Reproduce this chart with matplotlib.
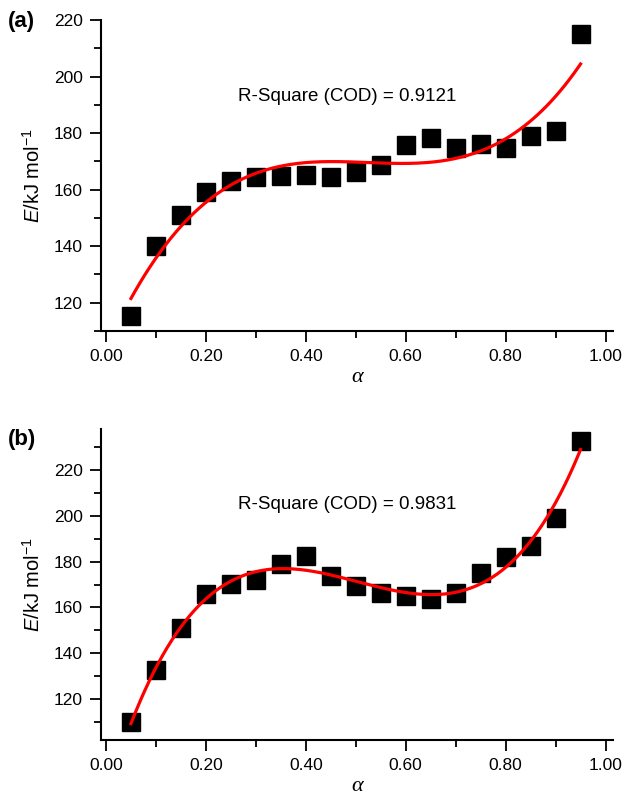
import numpy as np
import matplotlib
matplotlib.use("Agg")
import matplotlib.pyplot as plt
from matplotlib.ticker import MultipleLocator

plt.rcParams['font.family'] = ['Liberation Sans', 'DejaVu Sans']
plt.rcParams['mathtext.fontset'] = 'custom'
plt.rcParams['mathtext.rm'] = 'Liberation Sans'
plt.rcParams['mathtext.it'] = 'Liberation Sans:italic'

alpha = [0.05, 0.10, 0.15, 0.20, 0.25, 0.30, 0.35, 0.40, 0.45, 0.50,
         0.55, 0.60, 0.65, 0.70, 0.75, 0.80, 0.85, 0.90, 0.95]
E_a = [115.4, 139.9, 151.1, 159.3, 163.1, 164.6, 165.0, 165.2, 164.3, 166.2,
       168.8, 175.8, 178.4, 174.7, 176.2, 174.7, 179.0, 180.8, 215.1]
E_b = [109.8, 132.7, 151.1, 165.7, 170.1, 171.8, 178.8, 182.4, 173.8, 169.5,
       166.4, 165.0, 163.7, 166.4, 174.9, 182.1, 186.9, 198.9, 232.7]

fig = plt.figure(figsize=(6.3, 7.98), dpi=100)
ax1 = fig.add_axes([101/630, 1-331/798, 512/630, 311/798])
ax2 = fig.add_axes([101/630, 1-740/798, 512/630, 311/798])

# polynomial fits (orders chosen to reproduce the quoted R^2)
panels = [(ax1, E_a, 3, (110, 220), "(a)", "R-Square (COD) = 0.9121", 193, 22),
          (ax2, E_b, 5, (102, 238), "(b)", "R-Square (COD) = 0.9831", 205, 440)]

for ax, E, deg, ylim, tag, txt, ty, tag_y in panels:
    ax.plot(alpha, E, 's', color='black', markersize=13, zorder=2)
    coef = np.polyfit(alpha, E, deg)
    xs = np.linspace(alpha[0], alpha[-1], 200)
    ax.plot(xs, np.polyval(coef, xs), color='#ff0000', lw=2.3, zorder=3)
    ax.set_xlim(-0.01, 1.015)
    ax.set_ylim(*ylim)
    ax.spines['top'].set_visible(False)
    ax.spines['right'].set_visible(False)
    for s in ('left', 'bottom'):
        ax.spines[s].set_linewidth(1.5)
    ax.xaxis.set_major_locator(MultipleLocator(0.2))
    ax.xaxis.set_minor_locator(MultipleLocator(0.1))
    ax.yaxis.set_major_locator(MultipleLocator(20))
    ax.yaxis.set_minor_locator(MultipleLocator(10))
    ax.xaxis.set_major_formatter(lambda v, p: f"{v:.2f}")
    ax.tick_params(which='major', length=8, width=1.3, labelsize=12.5, direction='out', pad=5)
    ax.tick_params(which='minor', length=5, width=1.3, direction='out')
    ax.set_xlabel("α", family='Liberation Serif', style='italic', fontsize=16, labelpad=3)
    ax.set_ylabel(r"$\it{E}$/kJ mol$^{-1}$", fontsize=14.5, labelpad=7)
    ax.text(0.265, ty, txt, fontsize=13.5, va='center')
    fig.text(8/630, 1 - tag_y/798, tag, fontsize=16, fontweight='bold', va='center')

fig.savefig("out.png", dpi=100)
